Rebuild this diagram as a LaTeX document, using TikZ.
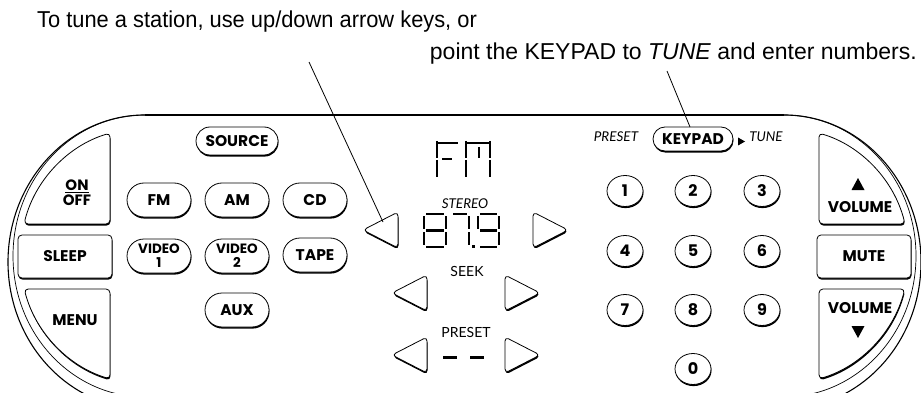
\documentclass[tikz,border=0pt]{standalone}
\usepackage{fontspec}
\setmainfont{Liberation Sans}
\newfontfamily\notefont[FakeStretch=0.95]{Liberation Sans}
\newfontfamily\notefontb{Liberation Sans}
\newfontfamily\btnfont{Poppins}
\newfontfamily\lblfont{Lato}
\usetikzlibrary{shapes.misc,shapes.geometric,shadows,calc}
\newcommand\segdrawa{\draw[seg] (\sgL+2,\sgT) -- (\sgR-2,\sgT);}
\newcommand\segdrawb{\draw[seg] (\sgR,\sgT+2) -- (\sgR,\sgM-1.5);}
\newcommand\segdrawc{\draw[seg] (\sgR,\sgM+1.5) -- (\sgR,\sgB-2);}
\newcommand\segdrawd{\draw[seg] (\sgL+2,\sgB) -- (\sgR-2,\sgB);}
\newcommand\segdrawe{\draw[seg] (\sgL,\sgM+1.5) -- (\sgL,\sgB-2);}
\newcommand\segdrawf{\draw[seg] (\sgL,\sgT+2) -- (\sgL,\sgM-1.5);}
\newcommand\segdrawg{\draw[seg] (\sgL+2,\sgM) -- (\sgR-2,\sgM);}
\newcommand\sevenseg[5]{\def\sgL{#1}\def\sgR{#2}\def\sgT{#3}\def\sgB{#4}\pgfmathsetmacro\sgM{(#3+#4)/2}\foreach \s in {#5}{\csname segdraw\s\endcsname}}
\newcommand\leftkey[2]{\path[arrowkey] (#1,#2) -- (#1+35,#2-18) -- (#1+35,#2+18) -- cycle;}
\newcommand\rightkey[2]{\path[arrowkey] (#1,#2) -- (#1-35,#2-18) -- (#1-35,#2+18) -- cycle;}
\tikzset{
 sh/.style={drop shadow={shadow xshift=0.5pt,shadow yshift=-1.6pt,fill=black,opacity=1}},
 keyshape/.style={draw,fill=white,line width=0.8pt,sh,rounded corners=4pt,line join=round},
 btnlbl/.style={font=\btnfont\bfseries\fontsize{15.5}{13}\selectfont},
 pill/.style={rounded rectangle,draw,fill=white,line width=0.8pt,sh,minimum width=64pt,minimum height=34pt,inner sep=0pt,btnlbl,align=center},
 twoline/.style={font=\btnfont\bfseries\fontsize{13.5}{14}\selectfont},
 numkey/.style={ellipse,draw,fill=white,line width=0.8pt,sh,minimum width=36pt,minimum height=31pt,inner sep=0pt,font=\btnfont\bfseries\fontsize{16}{16}\selectfont},
 keylabel/.style={btnlbl,align=center,inner sep=0pt},
 small/.style={font=\lblfont\fontsize{14}{14}\selectfont,inner sep=0pt},
 smallit/.style={font=\lblfont\itshape\fontsize{13.5}{13.5}\selectfont,inner sep=0pt},
 note/.style={font=\notefont\fontsize{23}{23}\selectfont,inner sep=0pt},
 noteb/.style={font=\notefontb\fontsize{23}{23}\selectfont,inner sep=0pt},
 seg/.style={line width=2.6pt},
 leader/.style={line width=0.8pt},
 arrowkey/.style={draw,fill=white,line width=0.8pt,sh,rounded corners=4pt,line join=round},
}
\begin{document}
\begin{tikzpicture}[x=1pt,y=-1pt]
\useasboundingbox (0,0) rectangle (921,393);
\clip (0,0) rectangle (921,393);
% body outline
\draw[line width=1.1pt] (145,115) -- (784,115);
\draw[line width=1.1pt] (145,115) arc[start angle=270,end angle=90,x radius=137,y radius=147];
\draw[line width=1.1pt] (784,115) arc[start angle=270,end angle=450,x radius=137,y radius=147];
\draw[line width=0.7pt] (145,115) arc[start angle=270,end angle=90,x radius=132,y radius=141];
\draw[line width=0.7pt] (784,115) arc[start angle=270,end angle=450,x radius=132,y radius=141];
% left keys
\path[keyshape] (110,224) -- (110,133.1) arc[start angle=253.74,end angle=194.48,x radius=125,y radius=128] -- cycle;
\node[keylabel,font=\btnfont\bfseries\fontsize{15}{15}\selectfont] (onoff) at (77,193) {\underline{ON}\\OFF};
\node[keyshape,rectangle,minimum width=94pt,minimum height=43pt,inner sep=0pt,btnlbl] (sleep) at (65,256.5) {SLEEP};
\path[keyshape] (110,289) -- (24.2,289) arc[start angle=165.06,end angle=106.26,x radius=125,y radius=128] -- cycle;
\node[keylabel] (menu) at (75,320) {MENU};
% right keys
\path[keyshape] (819,224) -- (819,133.1) arc[start angle=286.26,end angle=345.52,x radius=125,y radius=128] -- cycle;
\fill (851.5,190) -- (864.5,190) -- (858,178) -- cycle;
\node[keylabel] (volup) at (860,207) {VOLUME};
\node[keyshape,rectangle,minimum width=94pt,minimum height=43pt,inner sep=0pt,btnlbl] (mute) at (864,256.5) {MUTE};
\path[keyshape] (819,289) -- (904.8,289) arc[start angle=14.94,end angle=73.74,x radius=125,y radius=128] -- cycle;
\node[keylabel] (voldn) at (860,308) {VOLUME};
\fill (851.5,326) -- (864.5,326) -- (858,338) -- cycle;
% source keys
\node[pill,minimum width=82pt,minimum height=28pt] (source) at (237,141) {SOURCE};
\node[pill] (fm) at (159,200) {FM};
\node[pill] (am) at (237,200) {AM};
\node[pill] (cd) at (315,200) {CD};
\node[pill,twoline] (v1) at (159,256) {VIDEO\\1};
\node[pill,twoline] (v2) at (237,256) {VIDEO\\2};
\node[pill] (tape) at (315,255) {TAPE};
\node[pill] (aux) at (237,310) {AUX};
% display
\draw[seg] (437,141) -- (437,158) (437,160) -- (437,177);
\draw[seg] (438,143) -- (458,143);
\draw[seg] (442,159) -- (452,159);
\draw[seg] (466,141) -- (466,158) (466,160) -- (466,177);
\draw[seg] (467,143) -- (489,143);
\draw[seg] (490,141) -- (490,158) (490,160) -- (490,177);
\draw[seg] (479,147) -- (479,158);
\node[smallit] (stereo) at (465,204) {STEREO};
\sevenseg{424}{446}{214}{247}{a,b,c,d,e,f,g}
\sevenseg{451}{469}{214}{247}{a,b,c}
\fill (471.5,244.5) rectangle (474.5,247.5);
\sevenseg{478}{499}{214}{247}{a,b,c,d,f,g}
\leftkey{363}{230}
\rightkey{568}{230}
\node[small] (seek) at (467,271) {SEEK};
\leftkey{392}{293}
\rightkey{540}{293}
\node[small] (preset) at (466,332) {PRESET};
\leftkey{392}{355}
\rightkey{540}{355}
\draw[seg,line width=3pt] (443,357) -- (457,357) (470,357) -- (484,357);
% keypad
\node[smallit] (pst) at (616,137) {PRESET};
\node[pill,minimum width=80pt,minimum height=24pt] (kp) at (693,139) {KEYPAD};
\fill (738,137.5) -- (745,141.5) -- (738,145.5) -- cycle;
\node[smallit] (tune) at (766,137) {TUNE};
\node[numkey] (n1) at (625,191) {1};
\node[numkey] (n2) at (693,191) {2};
\node[numkey] (n3) at (762,191) {3};
\node[numkey] (n4) at (625,251) {4};
\node[numkey] (n5) at (693,251) {5};
\node[numkey] (n6) at (762,251) {6};
\node[numkey] (n7) at (625,310) {7};
\node[numkey] (n8) at (693,310) {8};
\node[numkey] (n9) at (762,310) {9};
\node[numkey] (n0) at (693,369) {0};
% notes
\node[note,anchor=base west] (t1) at (37,28) {To tune a station, use up/down arrow keys, or};
\node[noteb,anchor=base east] (t2) at (917,60) {point the KEYPAD to \textit{TUNE} and enter numbers.};
\coordinate (l1a) at (309,62);
\coordinate (l1b) at (383,222);
\draw[leader] (l1a) -- (l1b);
\coordinate (l2a) at (667,71);
\coordinate (l2b) at (690,127);
\draw[leader] (l2a) -- (l2b);
\end{tikzpicture}
\end{document}
